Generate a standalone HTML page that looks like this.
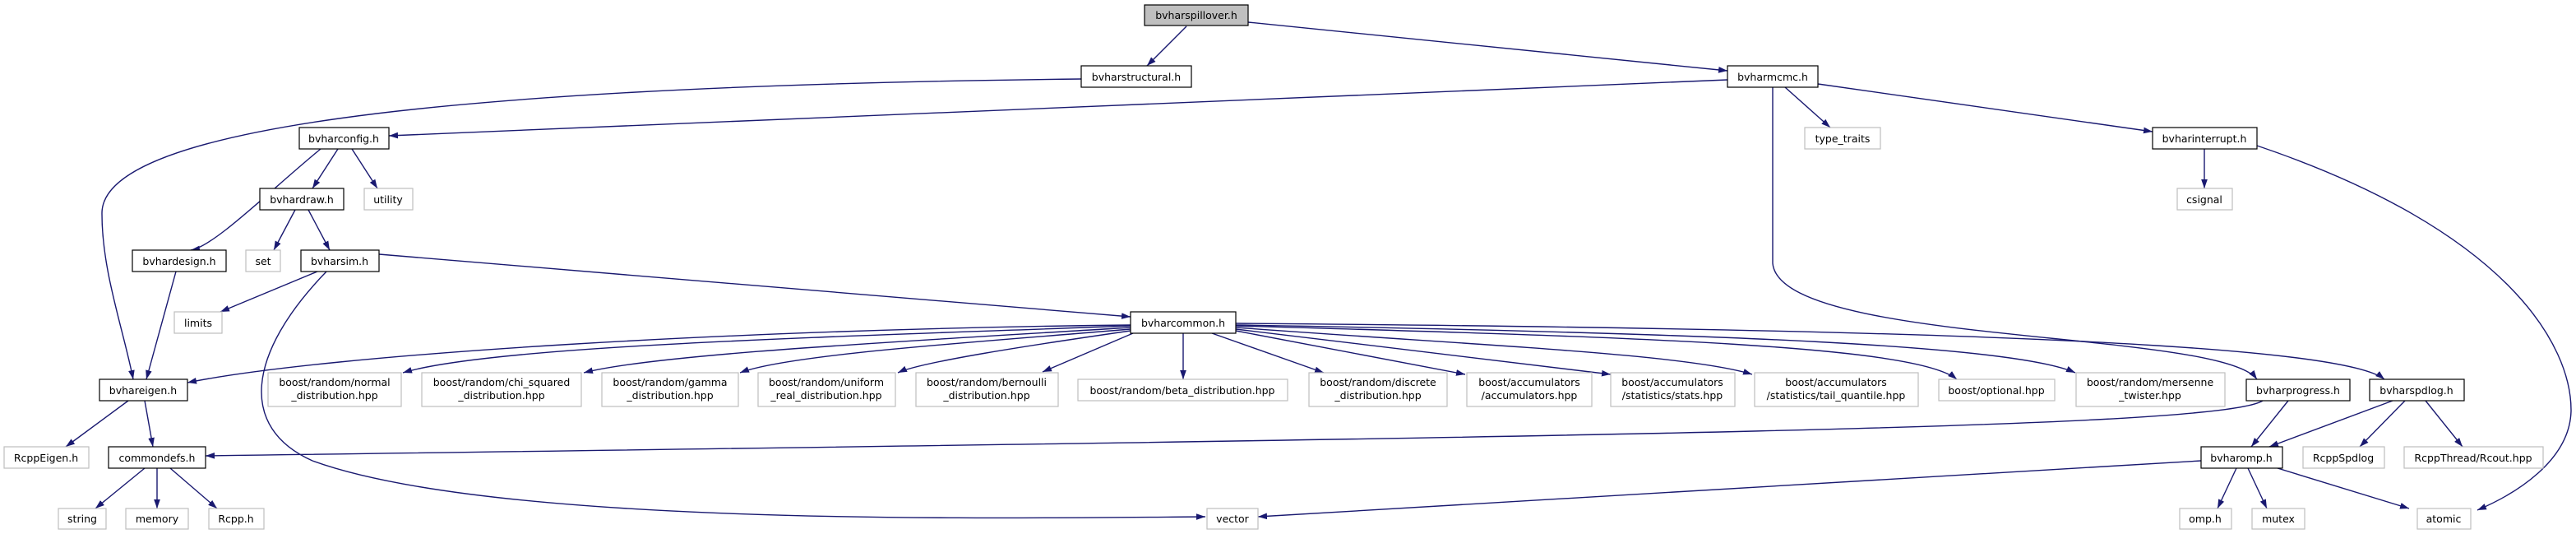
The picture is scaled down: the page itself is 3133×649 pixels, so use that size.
<!DOCTYPE html>
<html><head><meta charset="utf-8"><style>
html,body{margin:0;padding:0;background:#fff;}
svg{display:block}
text{font-family:"DejaVu Sans","Liberation Sans",sans-serif;font-size:12.5px;fill:#000;text-anchor:middle}
.n{fill:#fff;stroke:#000;stroke-width:1.2}
.g{fill:#fff;stroke:#bfbfbf;stroke-width:1.2}
.m{fill:#bfbfbf;stroke:#000;stroke-width:1.2}
.e{fill:none;stroke:#191970;stroke-width:1.4}
</style></head><body>
<svg width="3133" height="649" viewBox="0 0 3133 649" xmlns="http://www.w3.org/2000/svg">
<defs><marker id="a" viewBox="0 0 10 7" refX="10" refY="3.5" markerWidth="11" markerHeight="8" markerUnits="userSpaceOnUse" orient="auto"><path d="M0,0L10,3.5L0,7z" fill="#191970"/></marker></defs>
<g marker-end="url(#a)">
<path class="e" d="M1443,32L1395,80"/>
<path class="e" d="M1518,27L2101,86"/>
<path class="e" d="M1315,96C500,105 122,160 124,260C124,330 150,400 162,461"/>
<path class="e" d="M2101,97L473,165"/>
<path class="e" d="M2171,106L2226,155"/>
<path class="e" d="M2211,102L2618,160"/>
<path class="e" d="M2156,106L2156,320C2165,420 2700,400 2745,461"/>
<path class="e" d="M2681,181L2681,229"/>
<path class="e" d="M2745,177C3050,280 3128,420 3127,500C3125,560 3060,600 3013,620"/>
<path class="e" d="M390,181C330,230 260,300 232,304"/>
<path class="e" d="M411,181L380,229"/>
<path class="e" d="M428,181L459,229"/>
<path class="e" d="M359,255L333,304"/>
<path class="e" d="M375,255L401,304"/>
<path class="e" d="M461,309L1375,385"/>
<path class="e" d="M386,330L268,379"/>
<path class="e" d="M397,330C300,430 290,520 380,560C600,640 1200,630 1466,628"/>
<path class="e" d="M214,330L178,461"/>
<path class="e" d="M156,487L80,543"/>
<path class="e" d="M176,487L186,543"/>
<path class="e" d="M176,569L116,618"/>
<path class="e" d="M191,569L191,618"/>
<path class="e" d="M207,569L264,618"/>
<path class="e" d="M1375,395C900,400 400,430 228,465"/>
<path class="e" d="M1375,396C1000,410 600,420 490,453"/>
<path class="e" d="M1375,398C1100,415 800,430 710,453"/>
<path class="e" d="M1375,400C1200,415 960,430 900,453"/>
<path class="e" d="M1375,402C1250,420 1120,440 1092,453"/>
<path class="e" d="M1378,405L1268,452"/>
<path class="e" d="M1439,405L1439,461"/>
<path class="e" d="M1474,405L1610,453"/>
<path class="e" d="M1503,402L1782,455"/>
<path class="e" d="M1503,400L1959,455"/>
<path class="e" d="M1503,398C1800,420 2050,430 2131,455"/>
<path class="e" d="M1503,396C2000,410 2330,420 2380,461"/>
<path class="e" d="M1503,395C2100,405 2450,420 2524,453"/>
<path class="e" d="M1503,393C2400,400 2850,420 2900,461"/>
<path class="e" d="M2752,487C2700,520 2000,530 250,554"/>
<path class="e" d="M2783,487L2738,543"/>
<path class="e" d="M2910,487L2760,543"/>
<path class="e" d="M2925,487L2870,543"/>
<path class="e" d="M2950,487L2995,543"/>
<path class="e" d="M2677,560L1530,628"/>
<path class="e" d="M2720,569L2697,618"/>
<path class="e" d="M2734,569L2757,618"/>
<path class="e" d="M2770,569L2930,618"/>
</g>
<rect class="m" x="1392" y="6" width="126" height="25"/><text x="1455" y="23">bvharspillover.h</text>
<rect class="n" x="1315" y="80" width="134" height="26"/><text x="1382" y="98">bvharstructural.h</text>
<rect class="n" x="2101" y="80" width="110" height="26"/><text x="2156" y="98">bvharmcmc.h</text>
<rect class="n" x="364" y="155" width="109" height="26"/><text x="418" y="173">bvharconfig.h</text>
<rect class="g" x="2195" y="155" width="92" height="26"/><text x="2241" y="173">type_traits</text>
<rect class="n" x="2618" y="155" width="127" height="26"/><text x="2681" y="173">bvharinterrupt.h</text>
<rect class="n" x="316" y="229" width="102" height="26"/><text x="367" y="247">bvhardraw.h</text>
<rect class="g" x="443" y="229" width="59" height="26"/><text x="472" y="247">utility</text>
<rect class="g" x="2648" y="229" width="67" height="26"/><text x="2681" y="247">csignal</text>
<rect class="n" x="161" y="304" width="114" height="26"/><text x="218" y="322">bvhardesign.h</text>
<rect class="g" x="299" y="304" width="42" height="26"/><text x="320" y="322">set</text>
<rect class="n" x="366" y="304" width="95" height="26"/><text x="413" y="322">bvharsim.h</text>
<rect class="g" x="212" y="379" width="58" height="26"/><text x="241" y="397">limits</text>
<rect class="n" x="1375" y="379" width="128" height="26"/><text x="1439" y="397">bvharcommon.h</text>
<rect class="n" x="121" y="461" width="107" height="26"/><text x="174" y="479">bvhareigen.h</text>
<rect class="g" x="326" y="453" width="162" height="41"/><text x="407" y="469">boost/random/normal</text><text x="407" y="485">_distribution.hpp</text>
<rect class="g" x="513" y="453" width="194" height="41"/><text x="610" y="469">boost/random/chi_squared</text><text x="610" y="485">_distribution.hpp</text>
<rect class="g" x="732" y="453" width="166" height="41"/><text x="815" y="469">boost/random/gamma</text><text x="815" y="485">_distribution.hpp</text>
<rect class="g" x="922" y="453" width="167" height="41"/><text x="1005" y="469">boost/random/uniform</text><text x="1005" y="485">_real_distribution.hpp</text>
<rect class="g" x="1114" y="453" width="173" height="41"/><text x="1200" y="469">boost/random/bernoulli</text><text x="1200" y="485">_distribution.hpp</text>
<rect class="g" x="1311" y="461" width="255" height="26"/><text x="1438" y="479">boost/random/beta_distribution.hpp</text>
<rect class="g" x="1592" y="453" width="168" height="41"/><text x="1676" y="469">boost/random/discrete</text><text x="1676" y="485">_distribution.hpp</text>
<rect class="g" x="1784" y="453" width="152" height="41"/><text x="1860" y="469">boost/accumulators</text><text x="1860" y="485">/accumulators.hpp</text>
<rect class="g" x="1959" y="453" width="151" height="41"/><text x="2034" y="469">boost/accumulators</text><text x="2034" y="485">/statistics/stats.hpp</text>
<rect class="g" x="2134" y="453" width="199" height="41"/><text x="2233" y="469">boost/accumulators</text><text x="2233" y="485">/statistics/tail_quantile.hpp</text>
<rect class="g" x="2358" y="461" width="141" height="26"/><text x="2428" y="479">boost/optional.hpp</text>
<rect class="g" x="2525" y="453" width="181" height="41"/><text x="2615" y="469">boost/random/mersenne</text><text x="2615" y="485">_twister.hpp</text>
<rect class="n" x="2732" y="461" width="126" height="26"/><text x="2795" y="479">bvharprogress.h</text>
<rect class="n" x="2882" y="461" width="115" height="26"/><text x="2939" y="479">bvharspdlog.h</text>
<rect class="g" x="5" y="543" width="103" height="26"/><text x="56" y="561">RcppEigen.h</text>
<rect class="n" x="132" y="543" width="118" height="26"/><text x="191" y="561">commondefs.h</text>
<rect class="n" x="2677" y="543" width="99" height="26"/><text x="2726" y="561">bvharomp.h</text>
<rect class="g" x="2801" y="543" width="99" height="26"/><text x="2850" y="561">RcppSpdlog</text>
<rect class="g" x="2924" y="543" width="169" height="26"/><text x="3008" y="561">RcppThread/Rcout.hpp</text>
<rect class="g" x="71" y="618" width="58" height="25"/><text x="100" y="635">string</text>
<rect class="g" x="153" y="618" width="76" height="25"/><text x="191" y="635">memory</text>
<rect class="g" x="254" y="618" width="67" height="25"/><text x="287" y="635">Rcpp.h</text>
<rect class="g" x="1468" y="618" width="62" height="25"/><text x="1499" y="635">vector</text>
<rect class="g" x="2651" y="618" width="63" height="25"/><text x="2682" y="635">omp.h</text>
<rect class="g" x="2739" y="618" width="64" height="25"/><text x="2771" y="635">mutex</text>
<rect class="g" x="2940" y="618" width="65" height="25"/><text x="2972" y="635">atomic</text>
</svg>
</body></html>
